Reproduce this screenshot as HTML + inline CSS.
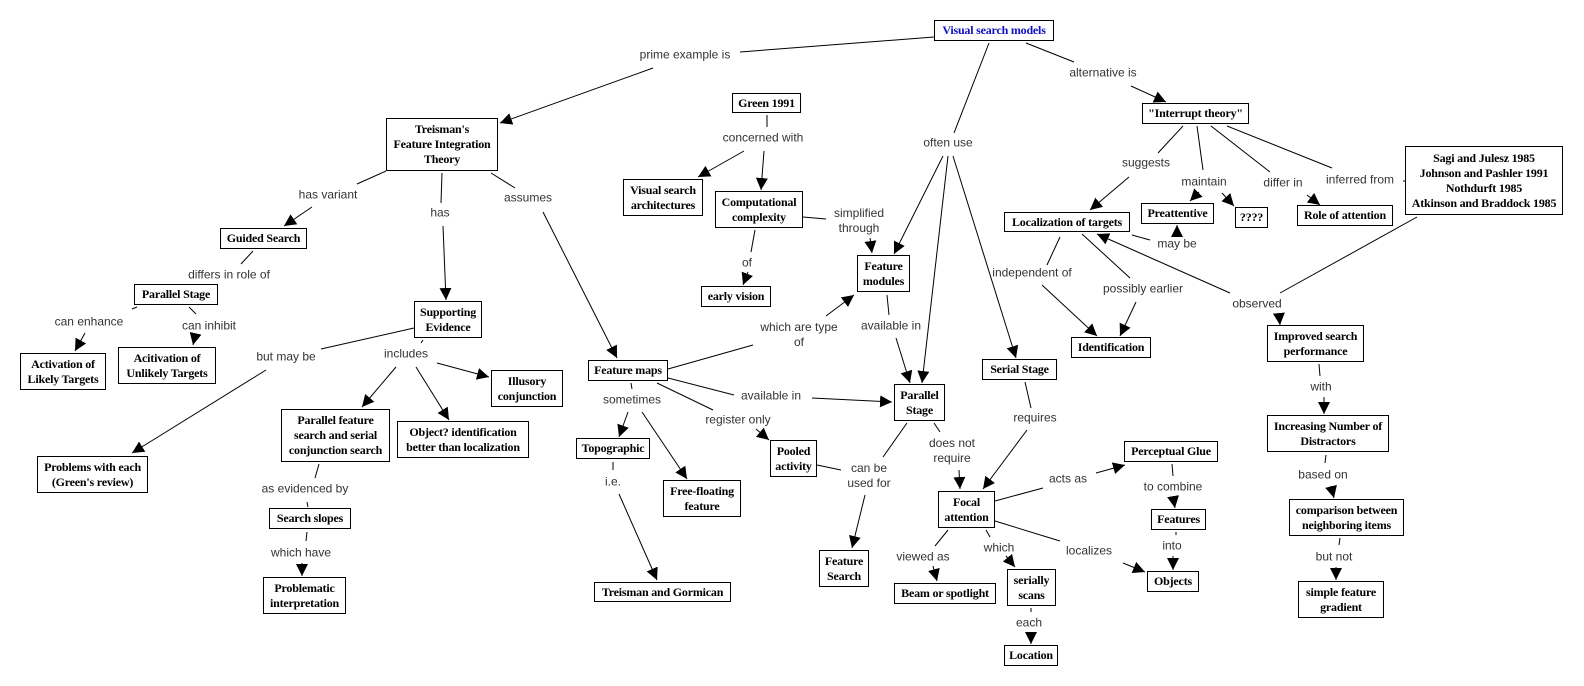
<!DOCTYPE html>
<html><head><meta charset="utf-8"><style>
body{margin:0;background:#fff;width:1584px;height:686px;overflow:hidden;position:relative}
.b{position:absolute;box-sizing:border-box;border:1.5px solid #000;background:#fff;font:bold 12px/15px "Liberation Serif",serif;color:#000;display:flex;align-items:center;justify-content:center;text-align:center;white-space:nowrap;letter-spacing:-0.2px}
.l{position:absolute;transform:translate(-50%,-50%);font:12px/15px "Liberation Sans",sans-serif;color:#333;white-space:nowrap;text-align:center}
svg{position:absolute;left:0;top:0}
</style></head><body>
<svg width="1584" height="686">
<defs><marker id="a" markerUnits="userSpaceOnUse" markerWidth="14" markerHeight="12" refX="12" refY="6" orient="auto"><path d="M0,0 L12,6 L0,12 z" fill="#000"/></marker></defs>
<g stroke="#000" stroke-width="1" fill="none">
<line x1="934" y1="37" x2="740" y2="52"/><line x1="653" y1="68" x2="500" y2="123" marker-end="url(#a)"/>
<line x1="1026" y1="43" x2="1074" y2="62"/><line x1="1131" y1="86" x2="1166" y2="102" marker-end="url(#a)"/>
<line x1="989" y1="43" x2="954" y2="133"/>
<line x1="943" y1="156" x2="894" y2="254" marker-end="url(#a)"/>
<line x1="948" y1="156" x2="922" y2="383" marker-end="url(#a)"/>
<line x1="953" y1="156" x2="1016" y2="358" marker-end="url(#a)"/>
<line x1="767" y1="115" x2="767" y2="127"/>
<line x1="744" y1="151" x2="698" y2="177" marker-end="url(#a)"/>
<line x1="764" y1="151" x2="761" y2="190" marker-end="url(#a)"/>
<line x1="803" y1="217" x2="826" y2="219"/><line x1="870" y1="238" x2="872" y2="253" marker-end="url(#a)"/>
<line x1="755" y1="230" x2="751" y2="252"/><line x1="748" y1="272" x2="743" y2="285" marker-end="url(#a)"/>
<line x1="668" y1="369" x2="753" y2="345"/><line x1="826" y1="316" x2="854" y2="295" marker-end="url(#a)"/>
<line x1="887" y1="295" x2="889" y2="315"/><line x1="896" y1="338" x2="910" y2="383" marker-end="url(#a)"/>
<line x1="668" y1="378" x2="734" y2="395"/><line x1="812" y1="398" x2="892" y2="402" marker-end="url(#a)"/>
<line x1="631" y1="383" x2="632" y2="389"/><line x1="628" y1="412" x2="619" y2="437" marker-end="url(#a)"/>
<line x1="642" y1="412" x2="687" y2="479" marker-end="url(#a)"/>
<line x1="657" y1="383" x2="713" y2="410"/><line x1="756" y1="429" x2="769" y2="440" marker-end="url(#a)"/>
<line x1="613" y1="462" x2="613" y2="470"/><line x1="619" y1="494" x2="657" y2="580" marker-end="url(#a)"/>
<line x1="817" y1="465" x2="841" y2="470"/><line x1="865" y1="495" x2="852" y2="548" marker-end="url(#a)"/>
<line x1="907" y1="423" x2="883" y2="457"/>
<line x1="934" y1="423" x2="940" y2="432"/><line x1="959" y1="470" x2="960" y2="489" marker-end="url(#a)"/>
<line x1="1025" y1="382" x2="1031" y2="408"/><line x1="1027" y1="430" x2="983" y2="489" marker-end="url(#a)"/>
<line x1="995" y1="501" x2="1043" y2="488"/><line x1="1096" y1="473" x2="1125" y2="465" marker-end="url(#a)"/>
<line x1="995" y1="521" x2="1060" y2="541"/><line x1="1123" y1="563" x2="1145" y2="572" marker-end="url(#a)"/>
<line x1="948" y1="530" x2="935" y2="546"/><line x1="933" y1="566" x2="937" y2="581" marker-end="url(#a)"/>
<line x1="986" y1="530" x2="990" y2="537"/><line x1="1006" y1="556" x2="1015" y2="567" marker-end="url(#a)"/>
<line x1="1031" y1="608" x2="1031" y2="612"/><line x1="1031" y1="632" x2="1031" y2="644" marker-end="url(#a)"/>
<line x1="1172" y1="464" x2="1173" y2="476"/><line x1="1173" y1="496" x2="1175" y2="508" marker-end="url(#a)"/>
<line x1="1176" y1="532" x2="1176" y2="535"/><line x1="1173" y1="556" x2="1173" y2="570" marker-end="url(#a)"/>
<line x1="1183" y1="126" x2="1158" y2="153"/><line x1="1129" y1="177" x2="1090" y2="210" marker-end="url(#a)"/>
<line x1="1197" y1="126" x2="1203" y2="170"/><line x1="1199" y1="192" x2="1190" y2="201" marker-end="url(#a)"/>
<line x1="1222" y1="193" x2="1234" y2="206" marker-end="url(#a)"/>
<line x1="1211" y1="126" x2="1270" y2="172"/><line x1="1307" y1="195" x2="1320" y2="205" marker-end="url(#a)"/>
<line x1="1227" y1="126" x2="1332" y2="168"/><line x1="1403" y1="181" x2="1405" y2="181"/>
<line x1="1132" y1="235" x2="1150" y2="240"/><line x1="1177" y1="234" x2="1177" y2="225" marker-end="url(#a)"/>
<line x1="1060" y1="237" x2="1047" y2="265"/><line x1="1042" y1="285" x2="1097" y2="336" marker-end="url(#a)"/>
<line x1="1082" y1="234" x2="1130" y2="278"/><line x1="1136" y1="302" x2="1120" y2="336" marker-end="url(#a)"/>
<line x1="1230" y1="293" x2="1097" y2="234" marker-end="url(#a)"/>
<line x1="1417" y1="217" x2="1280" y2="293"/><line x1="1279" y1="314" x2="1280" y2="325" marker-end="url(#a)"/>
<line x1="1319" y1="364" x2="1320" y2="376"/><line x1="1324" y1="397" x2="1324" y2="414" marker-end="url(#a)"/>
<line x1="1326" y1="455" x2="1325" y2="463"/><line x1="1331" y1="486" x2="1334" y2="498" marker-end="url(#a)"/>
<line x1="1340" y1="538" x2="1339" y2="545"/><line x1="1336" y1="567" x2="1336" y2="580" marker-end="url(#a)"/>
<line x1="386" y1="171" x2="357" y2="184"/><line x1="312" y1="207" x2="284" y2="226" marker-end="url(#a)"/>
<line x1="442" y1="173" x2="441" y2="203"/><line x1="443" y1="226" x2="446" y2="300" marker-end="url(#a)"/>
<line x1="491" y1="173" x2="515" y2="188"/><line x1="543" y1="212" x2="617" y2="358" marker-end="url(#a)"/>
<line x1="253" y1="251" x2="241" y2="264"/>
<line x1="137" y1="307" x2="132" y2="309"/><line x1="85" y1="333" x2="75" y2="351" marker-end="url(#a)"/>
<line x1="189" y1="307" x2="196" y2="314"/><line x1="195" y1="336" x2="193" y2="345" marker-end="url(#a)"/>
<line x1="414" y1="328" x2="321" y2="349"/><line x1="266" y1="370" x2="132" y2="453" marker-end="url(#a)"/>
<line x1="423" y1="340" x2="421" y2="343"/>
<line x1="396" y1="367" x2="362" y2="407" marker-end="url(#a)"/>
<line x1="416" y1="367" x2="449" y2="420" marker-end="url(#a)"/>
<line x1="437" y1="363" x2="489" y2="377" marker-end="url(#a)"/>
<line x1="319" y1="464" x2="315" y2="478"/><line x1="307" y1="502" x2="308" y2="507"/>
<line x1="307" y1="532" x2="306" y2="541"/><line x1="302" y1="563" x2="302" y2="576" marker-end="url(#a)"/>
</g></svg>

<div class="b" style="left:934px;top:20px;width:120px;height:21px;color:#1010c0">Visual search models</div>
<div class="b" style="left:386px;top:118px;width:112px;height:53px">Treisman's<br>Feature Integration<br>Theory</div>
<div class="b" style="left:220px;top:228px;width:87px;height:21px">Guided Search</div>
<div class="b" style="left:134px;top:284px;width:84px;height:21px">Parallel Stage</div>
<div class="b" style="left:20px;top:353px;width:86px;height:37px">Activation of<br>Likely Targets</div>
<div class="b" style="left:118px;top:347px;width:98px;height:37px">Acitivation of<br>Unlikely Targets</div>
<div class="b" style="left:414px;top:301px;width:68px;height:37px">Supporting<br>Evidence</div>
<div class="b" style="left:491px;top:370px;width:72px;height:37px">Illusory<br>conjunction</div>
<div class="b" style="left:281px;top:409px;width:109px;height:53px">Parallel feature<br>search and serial<br>conjunction search</div>
<div class="b" style="left:397px;top:421px;width:132px;height:37px">Object? identification<br>better than localization</div>
<div class="b" style="left:37px;top:456px;width:111px;height:37px">Problems with each<br>(Green's review)</div>
<div class="b" style="left:269px;top:508px;width:82px;height:21px">Search slopes</div>
<div class="b" style="left:263px;top:577px;width:83px;height:37px">Problematic<br>interpretation</div>
<div class="b" style="left:732px;top:93px;width:69px;height:20px">Green 1991</div>
<div class="b" style="left:623px;top:179px;width:80px;height:37px">Visual search<br>architectures</div>
<div class="b" style="left:715px;top:191px;width:88px;height:37px">Computational<br>complexity</div>
<div class="b" style="left:701px;top:286px;width:70px;height:21px">early vision</div>
<div class="b" style="left:857px;top:255px;width:53px;height:37px">Feature<br>modules</div>
<div class="b" style="left:588px;top:360px;width:80px;height:21px">Feature maps</div>
<div class="b" style="left:894px;top:384px;width:51px;height:37px">Parallel<br>Stage</div>
<div class="b" style="left:982px;top:359px;width:75px;height:21px">Serial Stage</div>
<div class="b" style="left:576px;top:438px;width:74px;height:21px">Topographic</div>
<div class="b" style="left:663px;top:480px;width:78px;height:37px">Free-floating<br>feature</div>
<div class="b" style="left:594px;top:582px;width:137px;height:20px">Treisman and Gormican</div>
<div class="b" style="left:770px;top:440px;width:47px;height:37px">Pooled<br>activity</div>
<div class="b" style="left:819px;top:550px;width:50px;height:37px">Feature<br>Search</div>
<div class="b" style="left:938px;top:491px;width:57px;height:37px">Focal<br>attention</div>
<div class="b" style="left:894px;top:583px;width:102px;height:21px">Beam or spotlight</div>
<div class="b" style="left:1007px;top:569px;width:49px;height:37px">serially<br>scans</div>
<div class="b" style="left:1004px;top:645px;width:54px;height:21px">Location</div>
<div class="b" style="left:1004px;top:212px;width:126px;height:20px">Localization of targets</div>
<div class="b" style="left:1142px;top:103px;width:107px;height:21px">"Interrupt theory"</div>
<div class="b" style="left:1141px;top:203px;width:73px;height:21px">Preattentive</div>
<div class="b" style="left:1235px;top:207px;width:33px;height:21px">????</div>
<div class="b" style="left:1297px;top:205px;width:96px;height:21px">Role of attention</div>
<div class="b" style="left:1405px;top:146px;width:158px;height:69px">Sagi and Julesz 1985<br>Johnson and Pashler 1991<br>Nothdurft 1985<br>Atkinson and Braddock 1985</div>
<div class="b" style="left:1071px;top:337px;width:80px;height:21px">Identification</div>
<div class="b" style="left:1267px;top:325px;width:97px;height:37px">Improved search<br>performance</div>
<div class="b" style="left:1124px;top:441px;width:94px;height:21px">Perceptual Glue</div>
<div class="b" style="left:1151px;top:509px;width:55px;height:21px">Features</div>
<div class="b" style="left:1147px;top:571px;width:52px;height:21px">Objects</div>
<div class="b" style="left:1267px;top:415px;width:122px;height:37px">Increasing Number of<br>Distractors</div>
<div class="b" style="left:1289px;top:499px;width:115px;height:37px">comparison between<br>neighboring items</div>
<div class="b" style="left:1298px;top:581px;width:86px;height:37px">simple feature<br>gradient</div>

<div class="l" style="left:685px;top:55px">prime example is</div>
<div class="l" style="left:1103px;top:73px">alternative is</div>
<div class="l" style="left:948px;top:143px">often use</div>
<div class="l" style="left:763px;top:138px">concerned with</div>
<div class="l" style="left:859px;top:221px">simplified<br>through</div>
<div class="l" style="left:747px;top:263px">of</div>
<div class="l" style="left:799px;top:335px">which are type<br>of</div>
<div class="l" style="left:891px;top:326px">available in</div>
<div class="l" style="left:771px;top:396px">available in</div>
<div class="l" style="left:632px;top:400px">sometimes</div>
<div class="l" style="left:738px;top:420px">register only</div>
<div class="l" style="left:613px;top:482px">i.e.</div>
<div class="l" style="left:869px;top:476px">can be<br>used for</div>
<div class="l" style="left:952px;top:451px">does not<br>require</div>
<div class="l" style="left:1035px;top:418px">requires</div>
<div class="l" style="left:1068px;top:479px">acts as</div>
<div class="l" style="left:923px;top:557px">viewed as</div>
<div class="l" style="left:999px;top:548px">which</div>
<div class="l" style="left:1089px;top:551px">localizes</div>
<div class="l" style="left:1029px;top:623px">each</div>
<div class="l" style="left:1173px;top:487px">to combine</div>
<div class="l" style="left:1172px;top:546px">into</div>
<div class="l" style="left:1321px;top:387px">with</div>
<div class="l" style="left:1323px;top:475px">based on</div>
<div class="l" style="left:1334px;top:557px">but not</div>
<div class="l" style="left:1146px;top:163px">suggests</div>
<div class="l" style="left:1204px;top:182px">maintain</div>
<div class="l" style="left:1283px;top:183px">differ in</div>
<div class="l" style="left:1360px;top:180px">inferred from</div>
<div class="l" style="left:1177px;top:244px">may be</div>
<div class="l" style="left:1032px;top:273px">independent of</div>
<div class="l" style="left:1143px;top:289px">possibly earlier</div>
<div class="l" style="left:1257px;top:304px">observed</div>
<div class="l" style="left:328px;top:195px">has variant</div>
<div class="l" style="left:440px;top:213px">has</div>
<div class="l" style="left:528px;top:198px">assumes</div>
<div class="l" style="left:229px;top:275px">differs in role of</div>
<div class="l" style="left:89px;top:322px">can enhance</div>
<div class="l" style="left:209px;top:326px">can inhibit</div>
<div class="l" style="left:286px;top:357px">but may be</div>
<div class="l" style="left:406px;top:354px">includes</div>
<div class="l" style="left:305px;top:489px">as evidenced by</div>
<div class="l" style="left:301px;top:553px">which have</div>
</body></html>
